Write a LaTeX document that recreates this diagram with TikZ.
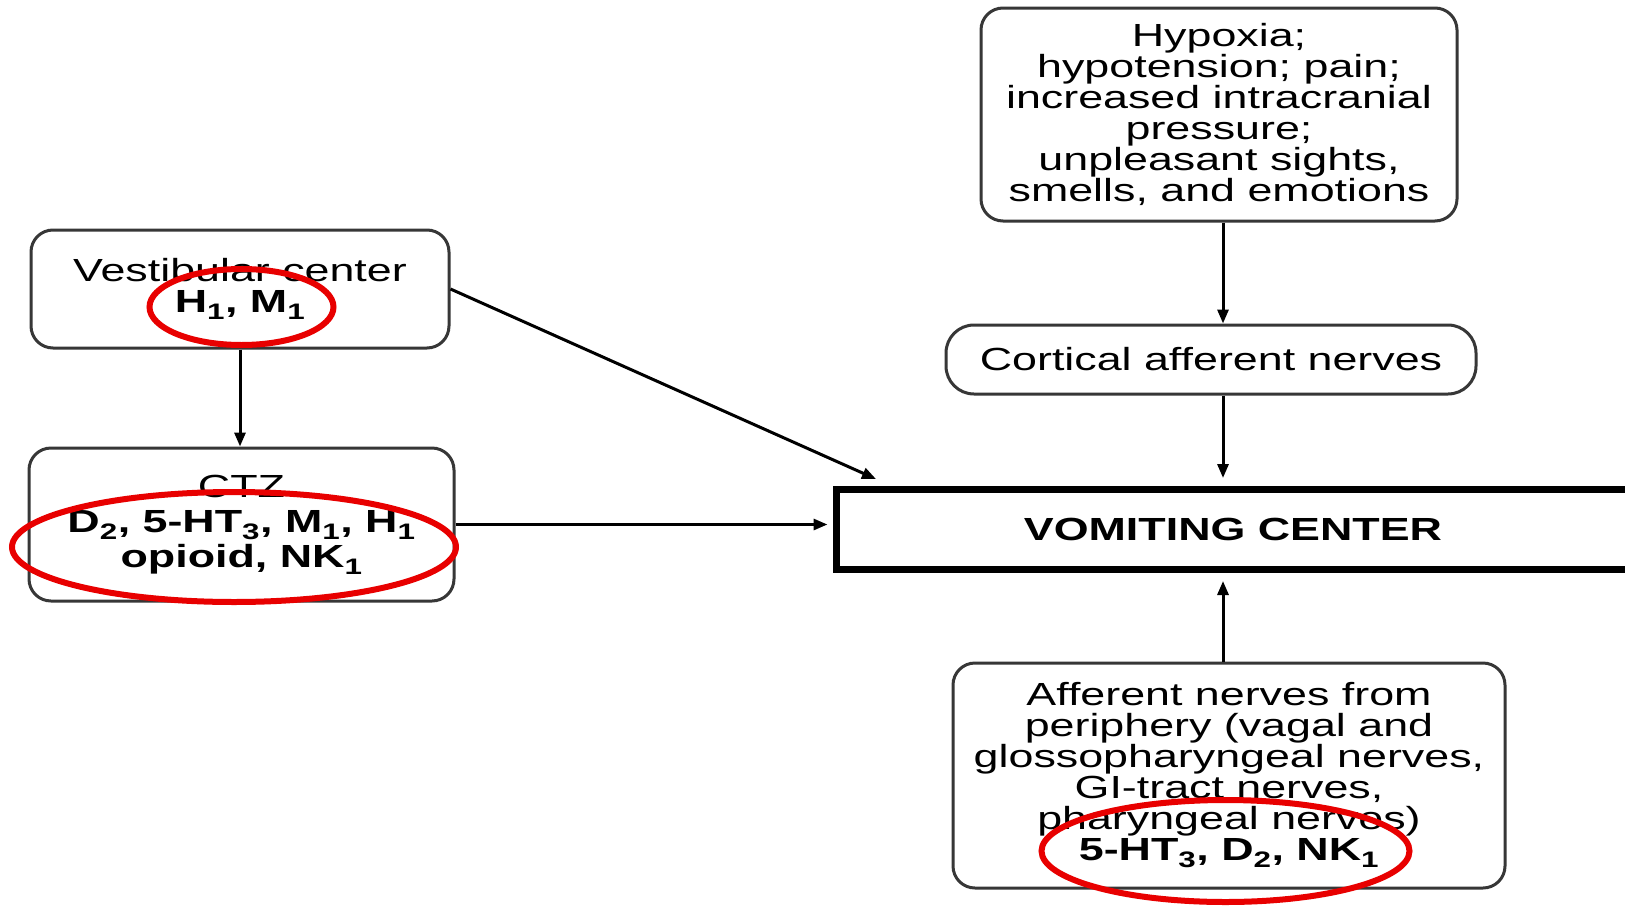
\documentclass[tikz,border=0pt]{standalone}
\usepackage{fontspec}
\setmainfont[FakeStretch=1.4]{Liberation Sans}
\usetikzlibrary{arrows.meta}
\definecolor{boxgray}{RGB}{55,55,55}
\definecolor{ringred}{RGB}{232,0,0}

\begin{document}
\begin{tikzpicture}[x=1pt, y=-1pt,
   box/.style={draw=boxgray, line width=3pt, rounded corners=22pt, align=center, inner sep=0pt, font=\fontsize{32}{31}\selectfont},
   arr/.style={draw=black, line width=3pt, -{Triangle[length=14pt,width=11pt]}},
   ring/.style={draw=ringred, line width=6pt}]
   % Frame
   \useasboundingbox (0,0) rectangle (1625,905);
   \clip (0,0) rectangle (1625,905);
   \fill[white] (0,0) rectangle (1625,905);

   % Left column
   \node[box, minimum width=418pt, minimum height=118pt] (vest) at (240,289) {Vestibular center\\\textbf{H\textsubscript{1}, M\textsubscript{1}}};
   \node[box, minimum width=425pt, minimum height=153pt] (ctz) at (241.5,524.5) {CTZ\\[4pt]\textbf{D\textsubscript{2}, 5-HT\textsubscript{3}, M\textsubscript{1}, H\textsubscript{1}}\\[4pt]\textbf{opioid, NK\textsubscript{1}}};

   % Right column
   \node[box, minimum width=476pt, minimum height=213pt] (hyp) at (1219,114.5) {Hypoxia;\\hypotension; pain;\\increased intracranial\\pressure;\\unpleasant sights,\\smells, and emotions};
   \node[box, rounded corners=28pt, minimum width=530pt, minimum height=69pt] (cort) at (1211,359.5) {Cortical afferent nerves};
   \node[draw=black, line width=7pt, minimum width=794pt, minimum height=80pt, inner sep=0pt, font=\fontsize{32}{31}\selectfont\bfseries] (vc) at (1233,529.5) {VOMITING CENTER};
   \node[box, minimum width=552pt, minimum height=225pt] (aff) at (1229,775.5) {Afferent nerves from\\periphery (vagal and\\glossopharyngeal nerves,\\GI-tract nerves,\\pharyngeal nerves)\\\textbf{5-HT\textsubscript{3}, D\textsubscript{2}, NK\textsubscript{1}}};

   % Arrows
   \coordinate (ax) at (1223,0);
   \coordinate (diag) at (876,479);
   \draw[arr] (vest.south) -- (vest.south |- ctz.north);
   \draw[arr] (vest.east) -- (diag);
   \draw[arr, shorten >=5pt] (ctz.east) -- (ctz.east -| vc.west);
   \draw[arr] (hyp.south -| ax) -- (cort.north -| ax);
   \draw[arr, shorten >=8pt] (cort.south -| ax) -- (vc.north -| ax);
   \draw[arr, shorten >=8pt] (aff.north -| ax) -- (vc.south -| ax);

   % Red rings
   \draw[ring] (241.5,307) ellipse [x radius=92, y radius=38];
   \draw[ring] (234,547) ellipse [x radius=222, y radius=55];
   \draw[ring] (1225.5,851) ellipse [x radius=184, y radius=51];
\end{tikzpicture}
\end{document}
